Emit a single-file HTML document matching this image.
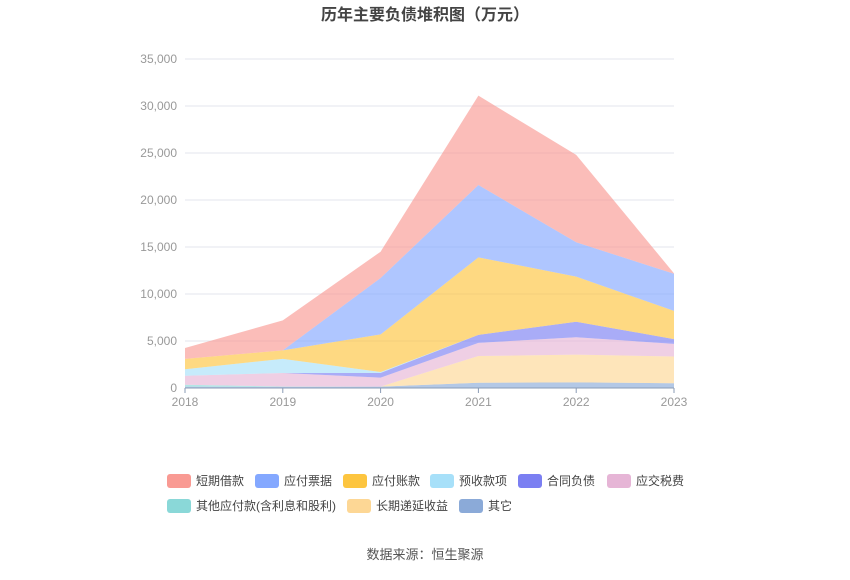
<!DOCTYPE html>
<html><head><meta charset="utf-8"><style>
body{margin:0;background:#fff;font-family:"Liberation Sans","Noto Sans CJK SC",sans-serif;}
</style></head><body>
<svg id="c" width="850" height="575" font-family="Liberation Sans, Noto Sans CJK SC, sans-serif">
<text x="425" y="20" text-anchor="middle" font-size="16" font-weight="bold" fill="#444">历年主要负债堆积图（万元）</text>
<text x="425" y="559" text-anchor="middle" font-size="13" fill="#555">数据来源：恒生聚源</text>
<g id="grid"></g><g id="areas"></g><g id="axis"></g><g id="legend"></g>
</svg>
<script>
const years=["2018","2019","2020","2021","2022","2023"];
const yTicks=[0,5000,10000,15000,20000,25000,30000,35000];
const names=["其它","其他应付款(含利息和股利)","长期递延收益","应交税费","合同负债","预收款项","应付账款","应付票据","短期借款"];
const colors=["#8baad8","#8ad8d8","#fdd795","#e6b5d6","#7b7ff2","#a7e0f9","#fdc53f","#84a8ff","#f99a93"];
const sOther=[150,100,150,560,600,500];
const sOtherPay=[200,50,0,0,0,0];
const sDeferred=[0,0,0,2840,2950,2850];
const sTax=[950,1450,950,1400,1850,1350];
const sContract=[0,0,500,850,1650,500];
const sAdvance=[700,1500,100,0,0,0];
const sPayable=[1100,900,4000,8250,4800,3000];
const sNotes=[0,0,6000,7700,3650,3950];
const sShort=[1150,3200,2800,9500,9300,50];
const series=[sOther,sOtherPay,sDeferred,sTax,sContract,sAdvance,sPayable,sNotes,sShort];
const X0=185,X1=674,Y0=388,YT=59,YMAX=35000;
const xs=i=>X0+(X1-X0)*i/(years.length-1);
const ys=v=>Y0-(Y0-YT)*v/YMAX;
const NS="http://www.w3.org/2000/svg";
function mk(t,a,p){const e=document.createElementNS(NS,t);for(const k in a)e.setAttribute(k,a[k]);p.appendChild(e);return e;}
const grid=document.getElementById('grid'),axis=document.getElementById('axis'),areas=document.getElementById('areas'),leg=document.getElementById('legend');
yTicks.forEach(t=>{
 const l=mk('line',{x1:X0,x2:X1,y1:ys(t),y2:ys(t),stroke:'#e3e6ee'},grid);
 
 
 const tx=mk('text',{x:X0-8,y:ys(t)+4,'text-anchor':'end','font-size':12,fill:'#999'},axis);
 tx.textContent=t.toLocaleString('en-US');
 
 
});
let base=years.map(()=>0);
series.forEach((s,k)=>{
 const top=base.map((b,i)=>b+s[i]);
 let d='M'+years.map((_,i)=>xs(i)+','+ys(top[i])).join('L');
 for(let i=years.length-1;i>=0;i--)d+='L'+xs(i)+','+ys(base[i]);
 const p=mk('path',{d:d+'Z',fill:colors[k],'fill-opacity':0.65},areas);
 
 
 base=top;
});
const ax=mk('line',{x1:X0,x2:X1,y1:Y0,y2:Y0,stroke:'#8a9bb5'},axis);


years.forEach((y,i)=>{
 const tk=mk('line',{x1:xs(i),x2:xs(i),y1:Y0,y2:Y0+5,stroke:'#8a9bb5'},axis);
 
 
 const t=mk('text',{x:xs(i),y:Y0+18,'text-anchor':'middle','font-size':12,fill:'#999'},axis);
 t.textContent=y;
 
 
});
const legOrder=[8,7,6,5,4,3,1,2,0];
const legPos=[[167,481],[255,481],[343,481],[430,481],[518,481],[607,481],[167,506],[347,506],[459,506]];
legOrder.forEach((k,j)=>{
 const [x,y]=legPos[j];
 const g=mk('g',{},leg);
 
 
 mk('rect',{x:x,y:y-7,width:24,height:14,rx:3,fill:colors[k]},g);
 const t=mk('text',{x:x+29,y:y+4,'font-size':12,fill:'#444'},g);
 t.textContent=names[k];
});
</script>
</body></html>
